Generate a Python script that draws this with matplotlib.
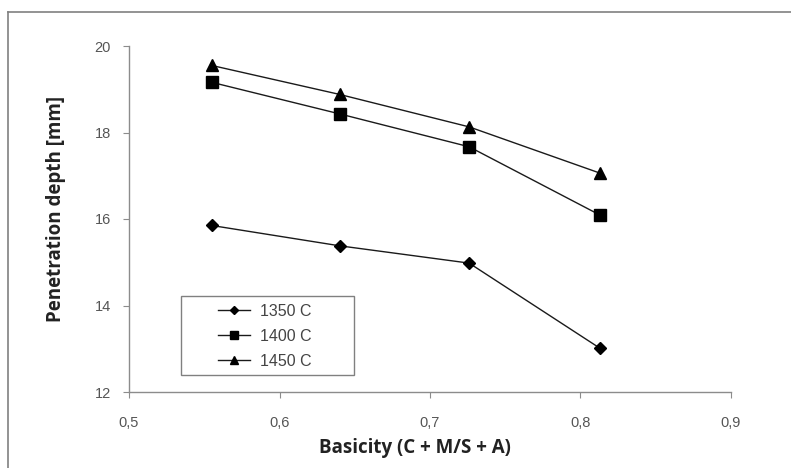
import matplotlib
matplotlib.use('Agg')
import matplotlib.pyplot as plt
from matplotlib.lines import Line2D
from matplotlib.patches import Rectangle
from matplotlib.ticker import FuncFormatter

basicity = [0.555, 0.640, 0.726, 0.813]
depth_1350 = [15.85, 15.38, 14.98, 13.01]
depth_1400 = [19.16, 18.43, 17.67, 16.09]
depth_1450 = [19.55, 18.88, 18.13, 17.06]
labels = ['1350 C', '1400 C', '1450 C']

W, H = 791, 468
fig = plt.figure(figsize=(W / 100, H / 100), dpi=100)

# frame around the figure (top and left edges visible)
fig.add_artist(Line2D([8 / W, 8 / W], [0, 1 - 12 / H], transform=fig.transFigure,
                      color='#808080', lw=1.2))
fig.add_artist(Line2D([8 / W, 1], [1 - 12 / H, 1 - 12 / H], transform=fig.transFigure,
                      color='#808080', lw=1.2))

ax = fig.add_axes([129 / W, (H - 392) / H, (731 - 129) / W, (392 - 46) / H])

line_kw = dict(color='#1a1a1a', lw=1.0, markeredgecolor='black', markerfacecolor='black')
ax.plot(basicity, depth_1350, marker='D', ms=6, label=labels[0], **line_kw)
ax.plot(basicity, depth_1400, marker='s', ms=8, label=labels[1], **line_kw)
ax.plot(basicity, depth_1450, marker='^', ms=9, label=labels[2], **line_kw)

ax.set_xlim(0.5, 0.9)
ax.set_ylim(12, 20)
ax.set_xticks([0.5, 0.6, 0.7, 0.8, 0.9])
ax.set_yticks([12, 14, 16, 18, 20])
ax.xaxis.set_major_formatter(FuncFormatter(lambda v, p: ('%.1f' % v).replace('.', ',')))
ax.yaxis.set_major_formatter(FuncFormatter(lambda v, p: '%d' % v))

for side in ['top', 'right']:
    ax.spines[side].set_visible(False)
for side in ['left', 'bottom']:
    ax.spines[side].set_color('#8c8c8c')
    ax.spines[side].set_linewidth(1.0)

ax.tick_params(direction='out', length=4, width=0.8, color='#8c8c8c',
               labelcolor='#555555', labelsize=10.5, pad=13)
for t in ax.get_xticklabels() + ax.get_yticklabels():
    t.set_family('Liberation Sans')
ax.tick_params(axis='y', pad=9)

# axis titles
fig.text(415 / W, 1 - 448 / H, 'Basicity (C + M/S + A)', fontsize=13.5, fontweight='bold',
         family='Open Sans', color='#222222', ha='center', va='center')
fig.text(56 / W, 1 - 209 / H, 'Penetration depth [mm]', fontsize=13.5, fontweight='bold',
         family='Open Sans', color='#222222', ha='center', va='center', rotation=90)

# legend: square box drawn separately, entries placed inside it
fig.add_artist(Rectangle((181 / W, 1 - 375 / H), (354 - 181) / W, (375 - 296) / H,
                         transform=fig.transFigure, fill=False, edgecolor='#808080', lw=1.0))
leg = ax.legend(loc='upper left', bbox_to_anchor=(218 / W, 1 - 304 / H),
                bbox_transform=fig.transFigure, frameon=False, borderaxespad=0,
                handlelength=2.0, labelspacing=0.62, borderpad=0, handletextpad=0.6,
                markerscale=0.7, prop={'family': 'Liberation Sans', 'size': 11.5})
for t in leg.get_texts():
    t.set_color('#444444')

fig.savefig('out.png', dpi=100)
